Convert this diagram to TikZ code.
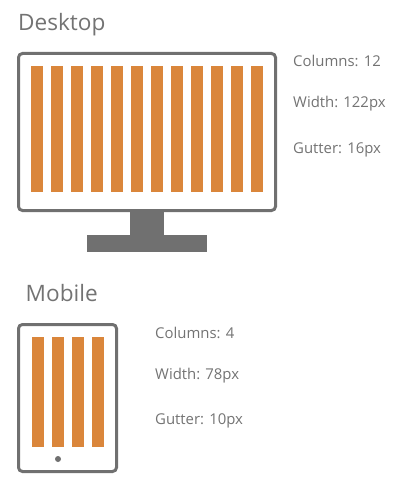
\documentclass[tikz,border=0pt]{standalone}
\usepackage{fontspec}
\setmainfont{Open Sans}
\definecolor{barorange}{HTML}{DA863B}
\definecolor{framegray}{HTML}{707070}
\definecolor{textgray}{HTML}{737373}
\tikzset{
  x=1pt,y=-1pt,
  heading/.style={anchor=base west,inner sep=0pt,text=textgray,font=\fontsize{22.6}{23}\selectfont},
  info/.style={anchor=base west,inner sep=0pt,text=textgray,font=\fontsize{14.9}{15}\selectfont},
  frame/.style={draw=framegray,line width=3pt,rounded corners=4pt,fill=white},
  column/.style={fill=barorange,draw=none},
  stand/.style={fill=framegray,draw=none}
}
\begin{document}
\begin{tikzpicture}
\useasboundingbox (0,0) rectangle (407,486);
\node[heading] (desktop) at (18,31) {Desktop};
\draw[stand] (130,210) rectangle (164,235);
\draw[stand] (87,235) rectangle (207,252);
\draw[frame] (18.5,53.5) rectangle (275.5,210.5);
\foreach \i in {0,...,11}
  \fill[column] ({31+20*\i},66) rectangle ({43+20*\i},192);
\node[info] (dcol) at (293,67) {Columns: 12};
\node[info] (dwid) at (293,108) {Width: 122px};
\node[info] (dgut) at (293,153.5) {Gutter: 16px};
\node[heading] (mobile) at (25.5,301) {Mobile};
\draw[frame] (18.5,324.5) rectangle (116.5,471.5);
\foreach \i in {0,...,3}
  \fill[column] ({32+20*\i},337) rectangle ({44+20*\i},447);
\fill[framegray] (58,459) circle (3);
\node[info] (mcol) at (155,338) {Columns: 4};
\node[info] (mwid) at (155,379) {Width: 78px};
\node[info] (mgut) at (155,424.5) {Gutter: 10px};
\end{tikzpicture}
\end{document}
